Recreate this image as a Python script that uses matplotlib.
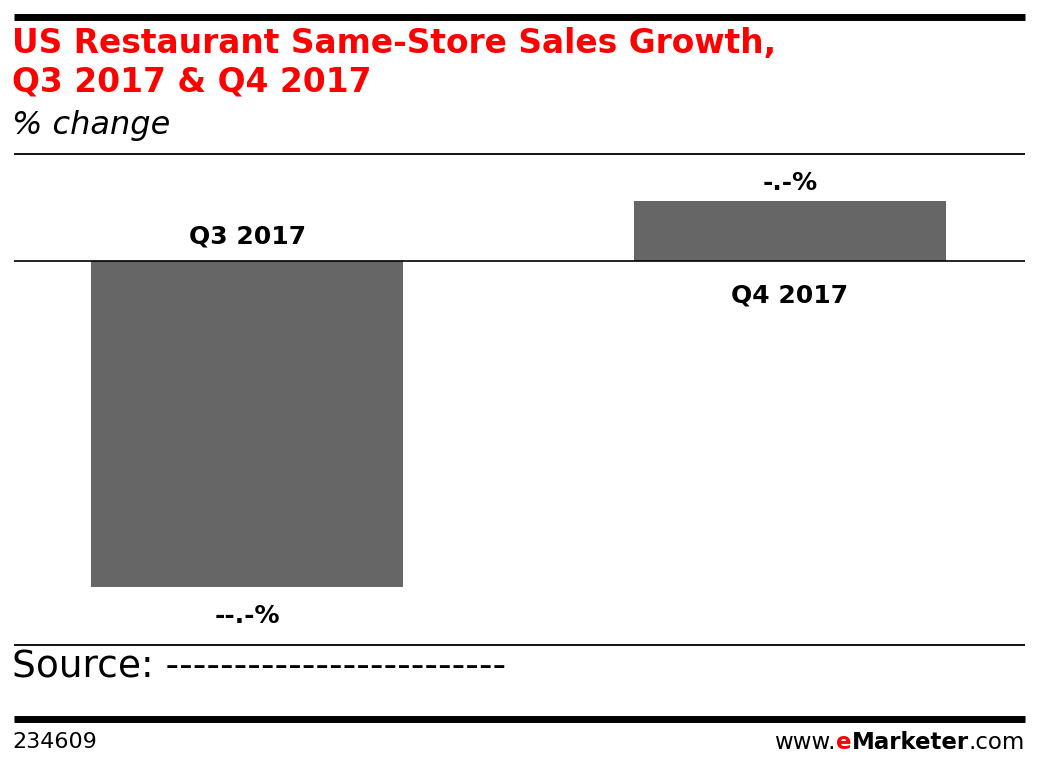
import matplotlib
matplotlib.use("Agg")
import matplotlib.pyplot as plt
from matplotlib.lines import Line2D

categories = ["Q3 2017", "Q4 2017"]
values = [-2.7, 0.5]
value_labels = ["--.-%", "-.-%"]
title_lines = "US Restaurant Same-Store Sales Growth,\nQ3 2017 & Q4 2017"
subtitle = "% change"
source = "Source: -------------------------"
chart_id = "234609"

W, H = 1038, 768
fig = plt.figure(figsize=(W / 100, H / 100), dpi=100)
fig.patch.set_facecolor("white")

def fx(px):
    return px / W

def fy(py):
    return 1 - py / H

# axes spanning plot area between the rule lines
ax_left, ax_right, ax_top, ax_bot = 14, 1025, 154, 645
ax = fig.add_axes([fx(ax_left), fy(ax_bot), fx(ax_right - ax_left), (ax_bot - ax_top) / H])
x = list(range(len(categories)))
ax.bar(x, values, width=0.575, color="#666666", zorder=2)
ax.set_xlim(-0.43, 1.433)
ax.set_ylim(-3.18, 0.886)
ax.axhline(0, color="black", lw=1.2, zorder=3)
ax.axis("off")

for xi, v, cat, lab in zip(x, values, categories, value_labels):
    if v < 0:
        ax.annotate(cat, (xi, 0), xytext=(0, 9), textcoords="offset points",
                    ha="center", va="bottom", fontsize=18, fontweight="bold")
        ax.annotate(lab, (xi, v), xytext=(0, -12), textcoords="offset points",
                    ha="center", va="top", fontsize=18, fontweight="bold")
    else:
        ax.annotate(lab, (xi, v), xytext=(0, 4), textcoords="offset points",
                    ha="center", va="bottom", fontsize=18, fontweight="bold")
        ax.annotate(cat, (xi, 0), xytext=(0, -16), textcoords="offset points",
                    ha="center", va="top", fontsize=18, fontweight="bold")

# rule lines
def hline(py, lw):
    fig.add_artist(Line2D([fx(14), fx(1025)], [fy(py), fy(py)], color="black", lw=lw,
                          solid_capstyle="butt"))

hline(16.5, 5)
hline(154, 1.3)
hline(645, 1.3)
hline(718.5, 5)

fig.text(fx(12), fy(27), title_lines, color="#ff0000", fontsize=23.7, fontweight="bold",
         ha="left", va="top", linespacing=1.2)
fig.text(fx(12), fy(110), subtitle, fontsize=23, style="italic", ha="left", va="top")
fig.text(fx(12), fy(650), source, fontsize=27, ha="left", va="top")
fig.text(fx(12), fy(732), chart_id, fontsize=16, ha="left", va="top")

# footer brand
fs = 16.5
yb = 731
t3 = fig.text(fx(1025), fy(yb), ".com", fontsize=fs, ha="right", va="top")
fig.canvas.draw()
r = fig.canvas.get_renderer()
bb = t3.get_window_extent(r)
t2 = fig.text(bb.x0 / W, fy(yb), "Marketer", fontsize=fs, fontweight="bold", ha="right", va="top")
bb = t2.get_window_extent(r)
t1 = fig.text(bb.x0 / W, fy(yb), "e", fontsize=fs, fontweight="bold", color="#ff0000", ha="right", va="top")
bb = t1.get_window_extent(r)
fig.text(bb.x0 / W, fy(yb), "www.", fontsize=fs, ha="right", va="top")

fig.savefig("out.png", dpi=100, facecolor="white")
